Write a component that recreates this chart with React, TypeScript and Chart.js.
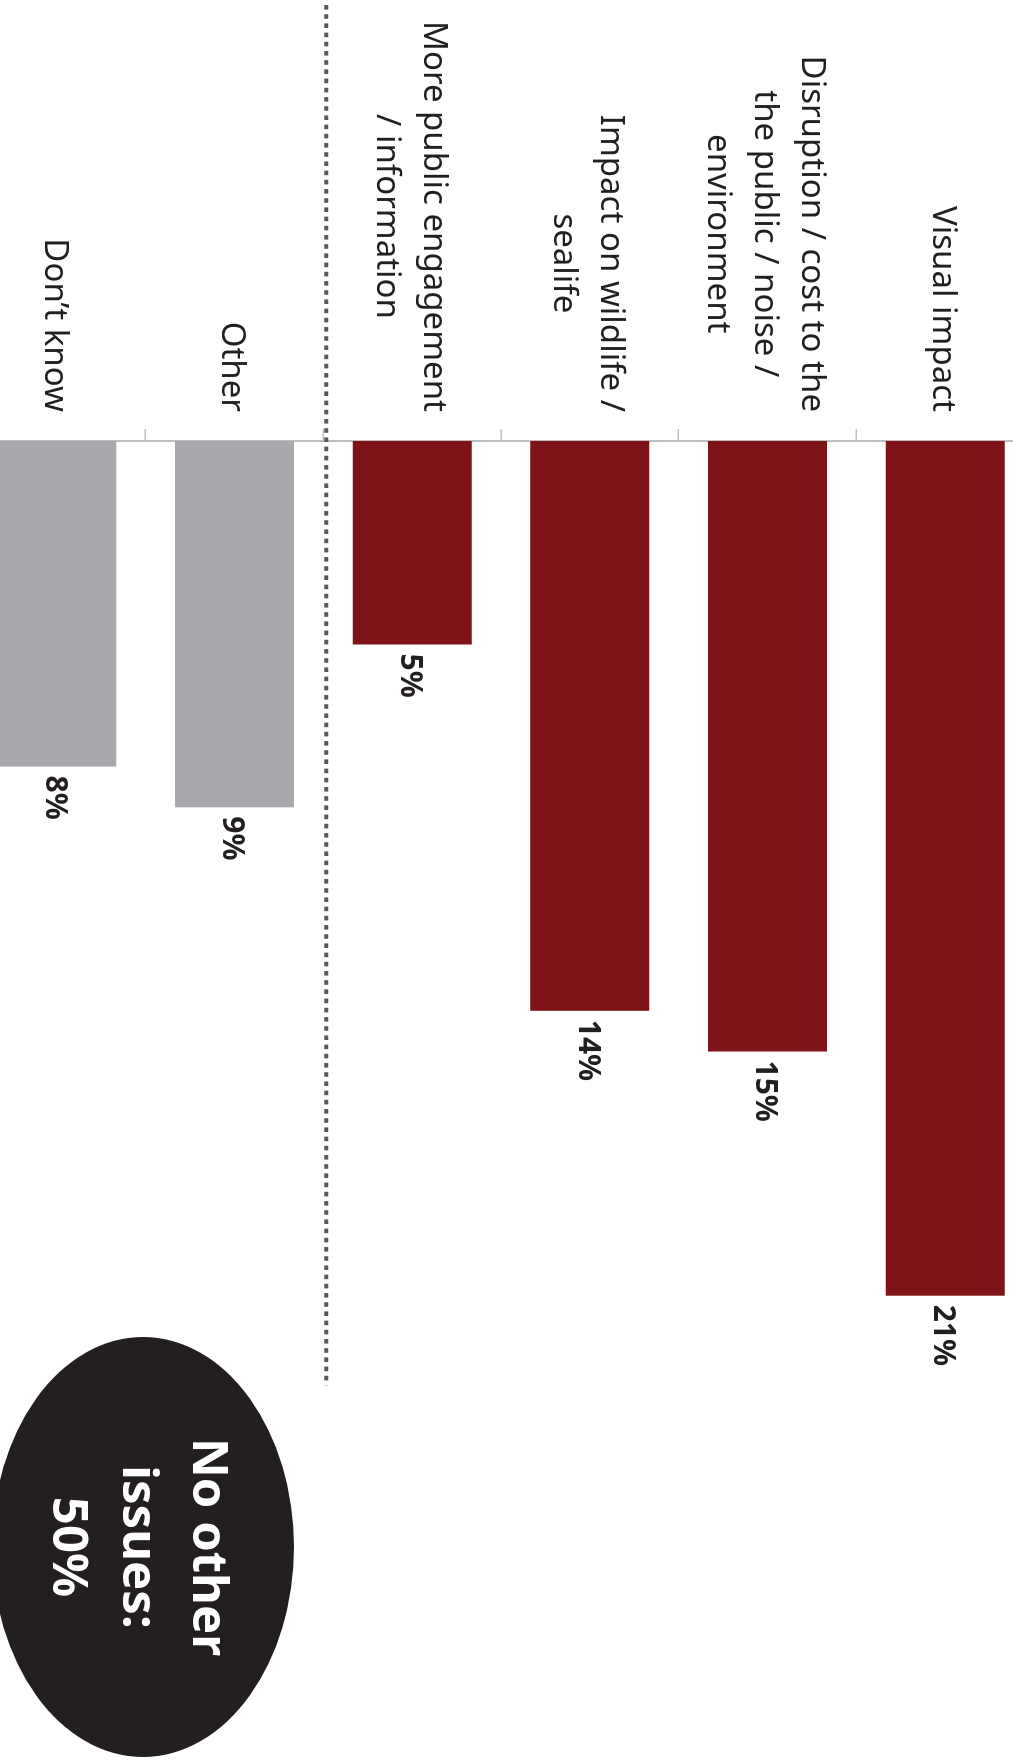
import React, { useEffect, useRef } from "react";
import { Chart, registerables } from "chart.js";

Chart.register(...registerables);

// ---- data ----
const categoryLines: string[][] = [
  ["Visual impact"],
  ["Disruption / cost to the", "the public / noise /", "environment"],
  ["Impact on wildlife /", "sealife"],
  ["More public engagement", "/ information"],
  ["Other"],
  ["Don\u2019t know"],
];
const categories = categoryLines.map((l) => l.join(" "));
const values = [21, 15, 14, 5, 9, 8];
const barColors = ["#7f1418", "#7f1418", "#7f1418", "#7f1418", "#a7a9ac", "#a7a9ac"];
const valueLabels = values.map((v) => `${v}%`);
const calloutLines = ["No other", "issues:", "50%"];
const dividerAfterIndex = 3;
const dividerEndValue = 23.2;

const FONT = '"Noto Sans", "Open Sans", sans-serif';
const TEXT = "#231f20";

const labelPlugin = {
  id: "customLabels",
  afterDraw(chart: any) {
    const ctx = chart.ctx;
    const yScale = chart.scales.y;
    const xScale = chart.scales.x;
    const area = chart.chartArea;
    ctx.save();

    // category labels (multi-line, lines centered, block right-aligned)
    ctx.fillStyle = TEXT;
    ctx.font = `33px ${FONT}`;
    ctx.textAlign = "center";
    ctx.textBaseline = "alphabetic";
    const right = area.left - 29;
    const lh = 47;
    categoryLines.forEach((lines, i) => {
      const cy = yScale.getPixelForValue(i);
      const w = Math.max(...lines.map((l) => ctx.measureText(l).width));
      const cx = right - w / 2;
      const n = lines.length;
      lines.forEach((line, j) => {
        ctx.fillText(line, cx, cy + 12 + (j - (n - 1) / 2) * lh);
      });
    });

    // value labels
    const meta = chart.getDatasetMeta(0);
    ctx.font = `bold 30px ${FONT}`;
    ctx.textAlign = "left";
    meta.data.forEach((bar: any, i: number) => {
      ctx.fillText(valueLabels[i], bar.x + 9, bar.y + 11);
    });

    // dotted divider
    const dy =
      (yScale.getPixelForValue(dividerAfterIndex) + yScale.getPixelForValue(dividerAfterIndex + 1)) / 2 - 3;
    ctx.strokeStyle = "#58595b";
    ctx.lineWidth = 4;
    ctx.setLineDash([4.6, 4.6]);
    ctx.beginPath();
    ctx.moveTo(5, dy);
    ctx.lineTo(xScale.getPixelForValue(dividerEndValue), dy);
    ctx.stroke();
    ctx.setLineDash([]);

    // callout ellipse
    const ex = 1547;
    const ey = 891;
    ctx.fillStyle = "#231f20";
    ctx.beginPath();
    ctx.ellipse(ex, ey, 210, 151, 0, 0, Math.PI * 2);
    ctx.fill();
    ctx.fillStyle = "#ffffff";
    ctx.font = `bold 49px ${FONT}`;
    ctx.textAlign = "center";
    calloutLines.forEach((line, j) => {
      ctx.fillText(line, ex, ey - 50 + j * 70);
    });

    ctx.restore();
  },
};

export default function App() {
  const ref = useRef<HTMLCanvasElement>(null);

  useEffect(() => {
    const chart = new Chart(ref.current as HTMLCanvasElement, {
      type: "bar",
      data: {
        labels: categories,
        datasets: [
          {
            data: values,
            backgroundColor: barColors,
            borderWidth: 0,
            categoryPercentage: 1,
            barPercentage: 0.67,
          },
        ],
      },
      options: {
        indexAxis: "y",
        animation: false,
        responsive: false,
        devicePixelRatio: 1,
        layout: { padding: { left: 0, right: 98, top: 0, bottom: 0 } },
        plugins: {
          legend: { display: false },
          tooltip: { enabled: false },
          title: { display: false },
        },
        scales: {
          x: {
            type: "linear",
            min: 0,
            max: 30,
            display: false,
          },
          y: {
            type: "category",
            position: "left",
            offset: true,
            z: 1,
            grid: {
              offset: true,
              drawOnChartArea: false,
              drawTicks: true,
              tickLength: 12,
              color: "#bfbfbf",
              lineWidth: 1.5,
            },
            border: { display: true, color: "#bfbfbf", width: 2 },
            ticks: { display: false },
            afterFit: (s: any) => {
              s.width = 441;
            },
          },
        },
      } as any,
      plugins: [labelPlugin],
    });
    return () => chart.destroy();
  }, []);

  return (
    <div
      style={{
        position: "absolute",
        left: 0,
        top: 0,
        width: 1013,
        height: 1760,
        overflow: "hidden",
        background: "#ffffff",
      }}
    >
      <div
        style={{
          position: "absolute",
          left: 0,
          top: 0,
          width: 1760,
          height: 1066,
          transformOrigin: "0 0",
          transform: "translate(1034px, 0px) rotate(90deg)",
        }}
      >
        <canvas ref={ref} width={1760} height={1066} style={{ display: "block", width: 1760, height: 1066 }} />
      </div>
    </div>
  );
}
